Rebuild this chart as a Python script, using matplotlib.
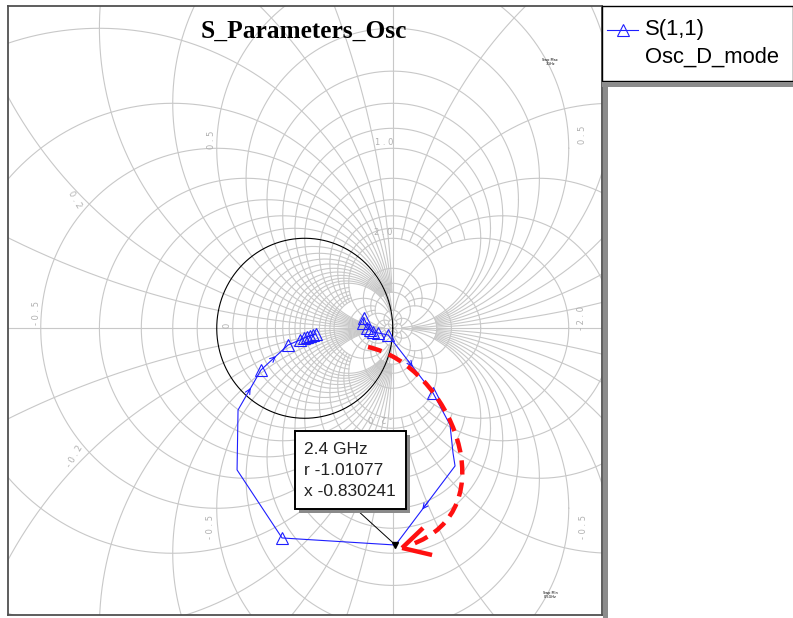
import numpy as np
import matplotlib
matplotlib.use("Agg")
import matplotlib.pyplot as plt
from matplotlib.path import Path
from matplotlib.patches import PathPatch, Rectangle

W, H = 793, 618

# S(1,1) reflection coefficient of Osc_D_mode along the sweep (real, imag)
s11_re = [0.674, 0.663, 0.708, 0.742, 0.776, 0.833, 0.947, 1.458, 1.651, 1.685, 1.708,
          -0.258, -0.769, -0.758, -0.497, -0.190,
          -0.053, -0.008, 0.026, 0.060, 0.094, 0.128]
s11_im = [0.114, 0.059, 0.003, -0.019, -0.041, -0.052, -0.074, -0.719, -1.074, -1.386, -1.530,
          -2.330, -1.574, -0.908, -0.463, -0.186,
          -0.130, -0.108, -0.097, -0.086, -0.074, -0.063]

# marker readout at 2.4 GHz (normalised impedance)
mark_freq = "2.4 GHz"
mark_r = -1.01077
mark_x = -0.830241
mark_idx = 11

# points carrying a triangle symbol, and segments carrying a direction arrow
sym_idx = [0, 1, 2, 3, 4, 5, 6, 7, 12, 15, 16, 17, 18, 19, 20, 21, 22]
arrow_seg = [6, 10, 14, 15]

# Smith chart grid: value -> how far along the other coordinate the line runs
grid_vals = [0.1, 0.2, 0.3, 0.4, 0.5, 0.6, 0.7, 0.8, 0.9, 1.0,
             1.2, 1.4, 1.6, 1.8, 2.0, 3.0, 4.0, 5.0, 10.0, 20.0]
grid_lim = [5, 10, 5, 5, 10, 5, 5, 5, 5, 20,
            2, 2, 2, 2, 10, 5, 5, 20, 20, 1e9]

# gamma of the marker and the full trace
z = complex(mark_r, mark_x)
g_mark = (z - 1) / (z + 1)
tr_re = np.array(s11_re[:mark_idx] + [g_mark.real] + s11_re[mark_idx:])
tr_im = np.array(s11_im[:mark_idx] + [g_mark.imag] + s11_im[mark_idx:])

fig = plt.figure(figsize=(W / 100, H / 100), dpi=100)
ax = fig.add_axes([8 / W, 3 / H, 594 / W, 609 / H])
ax.set_xlim(-3.372, 3.378)
ax.set_ylim(-3.186, 3.581)
ax.set_xticks([])
ax.set_yticks([])
for sp in ax.spines.values():
    sp.set_color("#505050")
    sp.set_linewidth(1.3)

gc = "#c8c8c8"
glw = 0.8
th = np.linspace(0, 2 * np.pi, 6000)


def grid_arc(cx, cy, rad, kind, lim):
    g = (cx + rad * np.cos(th)) + 1j * (cy + rad * np.sin(th))
    with np.errstate(all="ignore"):
        zz = (1 + g) / (1 - g)
    other = np.abs(zz.imag) if kind == "r" else np.abs(zz.real)
    gr = np.where(other <= lim, g.real, np.nan)
    gi = np.where(other <= lim, g.imag, np.nan)
    ax.plot(gr, gi, color=gc, lw=glw, zorder=1)


for v, lim in zip(grid_vals, grid_lim):
    # resistance circles, positive inside and negative outside the unit circle
    for r in (v, -v):
        if r != -1.0:
            grid_arc(r / (1 + r), 0, 1 / abs(1 + r), "r", lim)
    # reactance circles
    for x in (v, -v):
        grid_arc(1, 1 / x, 1 / abs(x), "x", lim)
ax.axvline(1.0, color=gc, lw=glw, zorder=1)
ax.axhline(0.0, color=gc, lw=glw, zorder=1)

# r = 0 circle
ax.plot(np.cos(th), np.sin(th), color="black", lw=0.8, zorder=2)

# grid labels
lab_kw = dict(color="#b0b0b0", fontsize=6, ha="center", va="center", zorder=2)
grid_labels = [(-1.065, 2.092, "0 . 5", 90), (0.901, 2.059, "1 . 0", 0),
               (-2.61, 1.426, "0 . 2", -60), (0.89, 1.059, "2 . 0", 0),
               (-3.053, 0.17, "- 0 . 5", 90), (-0.883, 0.037, "0", 90),
               (-2.61, -1.426, "- 0 . 2", 60), (-1.076, -2.203, "- 0 . 5", 90),
               (0.856, -0.997, "- 2 . 0", 180), (3.151, 2.148, "0 . 5", 90),
               (3.14, 0.114, "- 2 . 0", 90), (3.163, -2.208, "- 0 . 5", 90)]
for gx, gy, t, rot in grid_labels:
    ax.text(gx, gy, t, rotation=rot, **lab_kw)

ax.text(2.79, 2.96, "Swp Max\n3GHz", fontsize=2.5, ha="center", va="center", linespacing=1.0)
ax.text(2.79, -2.96, "Swp Min\n0.5GHz", fontsize=2.5, ha="center", va="center", linespacing=1.0)

# S(1,1) trace
blue = "#1e1eff"
ax.plot(tr_re, tr_im, color=blue, lw=0.8, zorder=4)
ax.plot(tr_re[sym_idx], tr_im[sym_idx], ls="none", marker="^", ms=8,
        mfc="none", mec=blue, mew=0.8, zorder=4)
for i in arrow_seg:
    p0 = np.array([tr_re[i], tr_im[i]])
    p1 = np.array([tr_re[i + 1], tr_im[i + 1]])
    tip = p0 + 0.55 * (p1 - p0)
    tail = p0 + 0.45 * (p1 - p0)
    ax.annotate("", xy=tip, xytext=tail,
                arrowprops=dict(arrowstyle="->", color=blue, lw=0.8,
                                mutation_scale=9, shrinkA=0, shrinkB=0), zorder=4)

# marker symbol and leader line
ax.plot([0.594, g_mark.real], [-2.019, g_mark.imag], color="black", lw=0.7, zorder=5)
ax.plot(g_mark.real, g_mark.imag, marker="v", ms=4, color="black", zorder=6)

# red dashed sweep direction arrow
red = "#ff1010"
verts = [(0.719, -0.208), (1.651, -0.408), (2.333, -2.019), (1.196, -2.408)]
curve = Path(verts, [Path.MOVETO, Path.CURVE4, Path.CURVE4, Path.CURVE4])
ax.add_patch(PathPatch(curve, fill=False, edgecolor=red, lw=3.2,
                       linestyle=(0, (3.2, 1.8)), zorder=5))
head_tip = (1.106, -2.441)
for bx, by in [(1.447, -2.519), (1.344, -2.219)]:
    ax.plot([head_tip[0], bx], [head_tip[1], by], color=red, lw=3.2,
            solid_capstyle="butt", zorder=5)

ax.text(-0.01, 3.30, "S_Parameters_Osc", family="Liberation Serif", weight="bold",
        fontsize=18.3, ha="center", va="center", zorder=6)

# overlay in pixel coordinates: callout box and legend panel
ov = fig.add_axes([0, 0, 1, 1])
ov.set_xlim(0, W)
ov.set_ylim(H, 0)
ov.axis("off")
ov.patch.set_alpha(0)

ov.add_patch(Rectangle((299, 435), 111, 78, facecolor="#8a8a8a", edgecolor="none"))
ov.add_patch(Rectangle((295, 431), 111, 78, facecolor="white", edgecolor="black", lw=1.4))
box_txt = [mark_freq, f"r {mark_r}", f"x {mark_x}"]
for k, t in enumerate(box_txt):
    ov.text(304, 450 + 20.5 * k, t, family="Liberation Sans", fontsize=12.5,
            color="#222222", ha="left", va="center")

# legend panel
ov.add_patch(Rectangle((602, 6), 191, 75, facecolor="white", edgecolor="black", lw=1.0))
ov.add_patch(Rectangle((602, 82), 191, 5, facecolor="#8c8c8c", edgecolor="none"))
ov.add_patch(Rectangle((603, 82), 5, H - 82, facecolor="#8c8c8c", edgecolor="none"))
ov.plot([607, 638], [29.5, 29.5], color=blue, lw=0.8)
ov.plot(622.5, 29.5, marker="^", ms=8, mfc="none", mec=blue, mew=0.8)
ov.text(645, 29.5, "S(1,1)", family="Liberation Sans", fontsize=15.8, ha="left", va="center")
ov.text(645, 57.5, "Osc_D_mode", family="Liberation Sans", fontsize=15.8, ha="left", va="center")

fig.savefig("out.png", dpi=100, facecolor="white")
